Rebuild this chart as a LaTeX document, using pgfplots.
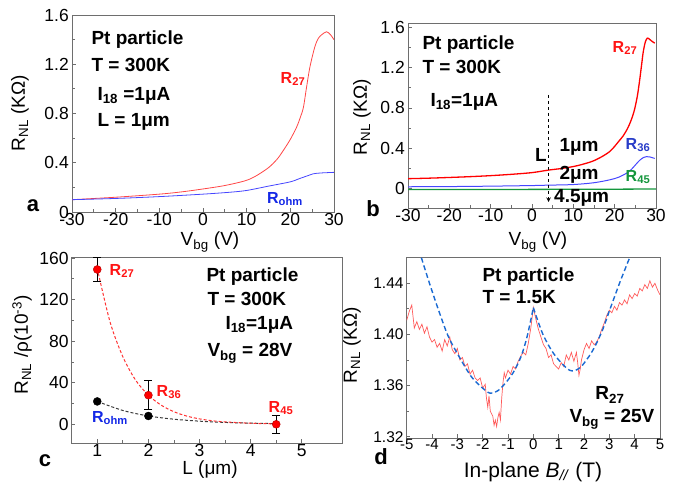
\documentclass[border=0pt]{standalone}
\usepackage{pgfplots}
\pgfplotsset{compat=1.18}
\usepackage{fontspec}
\setmainfont{Liberation Sans}
\definecolor{cRed}{RGB}{255,20,20}
\definecolor{cRedL}{RGB}{255,70,70}
\definecolor{cBlue}{RGB}{70,70,255}
\definecolor{cBlueT}{RGB}{20,40,230}
\definecolor{cBlueB}{RGB}{40,60,200}
\definecolor{cGreen}{RGB}{20,150,60}
\definecolor{cRedC}{RGB}{255,50,50}
\definecolor{cGrayC}{RGB}{60,60,60}
\definecolor{cRedD}{RGB}{255,90,90}
\definecolor{cBlueD}{RGB}{25,105,210}
\definecolor{axgray}{RGB}{110,110,110}
\pgfplotsset{myax/.style={scale only axis, anchor=south west,
  axis line style={draw=axgray, line width=0.8pt},
  tick style={draw=axgray, line width=0.8pt},
  tick align=inside, xtick pos=left, ytick pos=left,
  major tick length=3.5pt, minor tick length=2.5pt,
  tick label style={font=\fontsize{17.5}{17.5}\selectfont},
  /pgf/number format/assume math mode=true,
  xticklabel style={inner sep=1pt},
  yticklabel style={inner sep=1pt, xshift=-2pt}}}
\newcommand{\ann}{\bfseries\fontsize{19}{20}\selectfont}
\newcommand{\lab}{\bfseries\fontsize{16}{17}\selectfont}
\newcommand{\axl}{\fontsize{19}{19}\selectfont}
\newcommand{\pl}{\bfseries\fontsize{22}{22}\selectfont}
\begin{document}
\begin{tikzpicture}
\useasboundingbox (0pt,0pt) rectangle (689pt,487pt);
% ---------------- panel a
\begin{axis}[myax, at={(72pt,275pt)}, width=262pt, height=197pt,
  xmin=-30, xmax=30, ymin=0, ymax=1.6,
  xtick={-30,-20,-10,0,10,20,30}, xticklabels={-30,-20,-10,0,10,20,30},
  ytick={0,0.4,0.8,1.2,1.6}, yticklabels={0,0.4,0.8,1.2,1.6},
  minor x tick num=1, minor y tick num=1]
\addplot[cRedL, line width=0.8pt, smooth] coordinates {(-30,0.100)(-20,0.120)(-10,0.145)(-5,0.163)(0,0.187)(5,0.215)(9.6,0.253)(12,0.290)(15,0.360)(17,0.430)(18.4,0.500)(20,0.590)(21.45,0.690)(22.3,0.770)(23,0.850)(23.7,1.010)(24.5,1.180)(25.6,1.340)(26.4,1.410)(27.2,1.440)(28.3,1.464)(29.2,1.440)(29.8,1.410)(30,1.400)};
\addplot[cBlue, line width=0.8pt, smooth] coordinates {(-30,0.100)(-20,0.110)(-10,0.125)(0,0.145)(6,0.160)(10,0.175)(15,0.210)(20,0.245)(22,0.270)(24,0.295)(25.2,0.310)(27,0.317)(30,0.322)};
\end{axis}
\node[font=\pl] at (33pt,281pt) {a};
\node[font=\axl] at (210pt,245pt) {V\textsubscript{bg} (V)};
\node[font=\axl, rotate=90] at (20pt,374pt) {R\textsubscript{NL} (KΩ)};
\node[font=\ann, anchor=west] at (88pt,447pt) {Pt particle};
\node[font=\ann, anchor=west] at (88pt,422pt) {T = 300K};
\node[font=\ann, anchor=west] at (94pt,391pt) {I\textsubscript{18} =1μA};
\node[font=\ann, anchor=west] at (94pt,365pt) {L = 1μm};
\node[font=\lab, text=cRed] at (293pt,408pt) {R\textsubscript{27}};
\node[font=\lab, text=cBlueT] at (285pt,288pt) {R\textsubscript{ohm}};
% ---------------- panel b
\begin{axis}[myax, at={(408pt,279pt)}, width=248pt, height=185pt,
  xmin=-30, xmax=30, ymin=-0.19, ymax=1.64,
  xtick={-30,-20,-10,0,10,20,30}, xticklabels={-30,-20,-10,0,10,20,30},
  ytick={0,0.4,0.8,1.2,1.6}, yticklabels={0,0.4,0.8,1.2,1.6},
  minor x tick num=1, minor y tick num=1]
\addplot[cGreen, line width=1.3pt] coordinates {(-30,-0.008)(0,-0.006)(20,-0.004)(30,-0.002)};
\addplot[cBlue, line width=1pt, smooth] coordinates {(-30,0.020)(-20,0.022)(-10,0.026)(0,0.032)(4,0.036)(10,0.042)(15,0.060)(18.85,0.089)(21,0.115)(22.9,0.155)(24,0.190)(25,0.235)(26,0.280)(27,0.310)(27.7,0.318)(28.5,0.315)(29.7,0.300)};
\addplot[red, line width=1.3pt, smooth] coordinates {(-30,0.100)(-25,0.105)(-20,0.112)(-15,0.120)(-10,0.130)(-5,0.143)(0,0.160)(4,0.185)(7,0.200)(10,0.220)(12.5,0.245)(14.8,0.275)(17,0.320)(18.85,0.370)(20,0.420)(21,0.470)(22,0.520)(22.9,0.580)(23.5,0.630)(24,0.680)(24.5,0.740)(24.9,0.800)(25.5,0.920)(26,1.060)(26.5,1.220)(26.9,1.350)(27.4,1.450)(27.9,1.490)(28.4,1.480)(29,1.460)(29.7,1.440)};
\addplot[black, dashed, line width=1pt, -stealth] coordinates {(4,0.93)(4,-0.13)};
\end{axis}
\node[font=\pl] at (373pt,278pt) {b};
\node[font=\axl] at (538pt,245pt) {V\textsubscript{bg} (V)};
\node[font=\axl, rotate=90] at (362pt,370pt) {R\textsubscript{NL} (KΩ)};
\node[font=\ann, anchor=west] at (419pt,442pt) {Pt particle};
\node[font=\ann, anchor=west] at (419pt,420pt) {T = 300K};
\node[font=\ann, anchor=west] at (427pt,385pt) {I\textsubscript{18}=1μA};
\node[font=\lab, text=cRed] at (625pt,439pt) {R\textsubscript{27}};
\node[font=\lab, text=cBlueB] at (638pt,342pt) {R\textsubscript{36}};
\node[font=\lab, text=cGreen] at (638pt,310pt) {R\textsubscript{45}};
\node[font=\ann] at (541pt,332pt) {L};
\node[font=\ann, anchor=west] at (556pt,340pt) {1μm};
\node[font=\ann, anchor=west] at (556pt,312pt) {2μm};
\node[font=\ann, anchor=west, inner sep=1pt] at (553pt,289pt) {4.5μm};
% ---------------- panel c
\begin{axis}[myax, at={(71.7pt,44pt)}, width=271pt, height=186pt,
  xmin=0.5, xmax=5.8, ymin=-18, ymax=161,
  xtick={1,2,3,4,5}, xticklabels={1,2,3,4,5},
  ytick={0,40,80,120,160}, yticklabels={0,40,80,120,160},
  minor x tick num=1, minor y tick num=1]
\addplot[cGrayC, densely dashed, line width=1pt, smooth] coordinates {(1,22)(1.5,13.3)(2,8)(2.5,4.9)(3,3.0)(3.5,1.8)(4,1.1)(4.5,0.66)};
\addplot[cRedC, densely dashed, line width=1pt, smooth] coordinates {(1,150)(1.25,98.5)(1.5,65)(1.75,42.5)(2,28)(2.25,18.4)(2.5,12.1)(2.75,7.9)(3,5.2)(3.25,3.4)(3.5,2.3)(4,1.0)(4.5,0.4)};
\addplot[only marks, mark=*, mark size=4pt, black] coordinates {(1,22)(2,8)};
\addplot[only marks, mark=*, mark size=4pt, red, mark options={fill=red, draw=red!70!black},
  error bars/.cd, y dir=both, y explicit,
  error bar style={black, line width=0.8pt},
  error mark options={rotate=90, mark size=4pt, black, line width=0.8pt}]
  coordinates {(1,149) +- (0,11.5) (2,28) +- (0,14) (4.5,0) +- (0,8.5)};
\end{axis}
\node[font=\pl] at (45pt,26pt) {c};
\node[font=\axl] at (210pt,17pt) {L (μm)};
\node[font=\axl, rotate=90] at (22pt,142pt) {R\textsubscript{NL} /ρ(10\textsuperscript{-3})};
\node[font=\ann, anchor=west] at (203pt,210pt) {Pt particle};
\node[font=\ann, anchor=west] at (204pt,188pt) {T = 300K};
\node[font=\ann, anchor=west] at (222pt,162pt) {I\textsubscript{18}=1μA};
\node[font=\ann, anchor=west] at (204pt,134pt) {V\textsubscript{bg} = 28V};
\node[font=\lab, text=cRed] at (122pt,216pt) {R\textsubscript{27}};
\node[font=\lab, text=cRed] at (169pt,95pt) {R\textsubscript{36}};
\node[font=\lab, text=cRed] at (281pt,79pt) {R\textsubscript{45}};
\node[font=\lab, text=cBlueT] at (110pt,69pt) {R\textsubscript{ohm}};
% ---------------- panel d
\begin{axis}[myax, at={(406.7pt,49pt)}, width=253.3pt, height=181pt,
  xmin=-5, xmax=5, ymin=1.319, ymax=1.4606,
  xtick={-5,-4,-3,-2,-1,0,1,2,3,4,5}, xticklabels={-5,-4,-3,-2,-1,0,1,2,3,4,5},
  ytick={1.32,1.36,1.40,1.44}, yticklabels={1.32,1.36,1.40,1.44},
  minor y tick num=1,
  xticklabel style={font=\fontsize{15}{15}\selectfont},
  yticklabel style={font=\fontsize{15.5}{15.5}\selectfont}]
\addplot[cRedD, line width=0.7pt] coordinates {(-5.0,1.411)(-4.9,1.418)(-4.8,1.423)(-4.7,1.405)(-4.6,1.410)(-4.5,1.404)(-4.4,1.408)(-4.3,1.401)(-4.2,1.406)(-4.1,1.398)(-4.0,1.394)(-3.9,1.396)(-3.8,1.390)(-3.7,1.393)(-3.6,1.387)(-3.5,1.396)(-3.4,1.391)(-3.3,1.398)(-3.2,1.388)(-3.1,1.385)(-3.0,1.389)(-2.9,1.380)(-2.8,1.382)(-2.7,1.375)(-2.6,1.377)(-2.5,1.369)(-2.4,1.372)(-2.3,1.366)(-2.2,1.364)(-2.1,1.366)(-2.0,1.358)(-1.9,1.361)(-1.85,1.350)(-1.8,1.343)(-1.75,1.352)(-1.7,1.340)(-1.6,1.336)(-1.55,1.329)(-1.5,1.333)(-1.45,1.328)(-1.4,1.335)(-1.35,1.339)(-1.3,1.333)(-1.25,1.350)(-1.2,1.362)(-1.15,1.370)(-1.1,1.366)(-1.0,1.372)(-0.9,1.369)(-0.8,1.375)(-0.7,1.373)(-0.6,1.379)(-0.5,1.383)(-0.4,1.386)(-0.3,1.384)(-0.2,1.393)(-0.1,1.405)(0.0,1.421)(0.1,1.412)(0.2,1.404)(0.3,1.398)(0.4,1.392)(0.5,1.389)(0.6,1.382)(0.7,1.384)(0.8,1.377)(0.9,1.375)(1.0,1.373)(1.1,1.378)(1.2,1.375)(1.3,1.384)(1.4,1.380)(1.5,1.386)(1.6,1.379)(1.7,1.386)(1.75,1.378)(1.8,1.368)(1.85,1.373)(1.9,1.380)(2.0,1.388)(2.1,1.393)(2.2,1.389)(2.3,1.395)(2.4,1.392)(2.5,1.394)(2.6,1.398)(2.7,1.404)(2.8,1.409)(2.9,1.415)(3.0,1.419)(3.1,1.417)(3.2,1.422)(3.3,1.419)(3.4,1.425)(3.5,1.423)(3.6,1.427)(3.7,1.424)(3.8,1.431)(3.9,1.428)(4.0,1.432)(4.1,1.430)(4.2,1.436)(4.3,1.434)(4.4,1.439)(4.5,1.436)(4.6,1.442)(4.7,1.437)(4.8,1.440)(4.9,1.435)(5.0,1.431)};
\addplot[cBlueD, line width=1.4pt, dash pattern=on 5pt off 3pt, smooth] coordinates {(-4.42,1.46)(-4.1,1.44)(-3.76,1.42)(-3.37,1.399)(-2.97,1.384)(-2.45,1.367)(-2.0,1.358)(-1.7,1.354)(-1.4,1.356)(-1.1,1.362)(-0.8,1.370)(-0.5,1.382)(-0.25,1.398)(0,1.421)};
\addplot[cBlueD, line width=1.4pt, dash pattern=on 5pt off 3pt, smooth] coordinates {(0,1.421)(0.38,1.40)(0.84,1.384)(1.43,1.372)(1.84,1.374)(2.3,1.386)(2.7,1.402)(3.03,1.42)(3.42,1.441)(3.8,1.46)};
\end{axis}
\node[font=\pl] at (381pt,30pt) {d};
\node[font=\fontsize{21}{21}\selectfont] at (533pt,15pt) {In-plane \textit{B}\textsubscript{\textit{//}} (T)};
\node[font=\axl, rotate=90] at (352pt,142pt) {R\textsubscript{NL} (KΩ)};
\node[font=\ann, anchor=west] at (479pt,210pt) {Pt particle};
\node[font=\ann, anchor=west] at (479pt,190pt) {T = 1.5K};
\node[font=\ann] at (610pt,92pt) {R\textsubscript{27}};
\node[font=\ann, anchor=west] at (566pt,68pt) {V\textsubscript{bg} = 25V};
\end{tikzpicture}
\end{document}
